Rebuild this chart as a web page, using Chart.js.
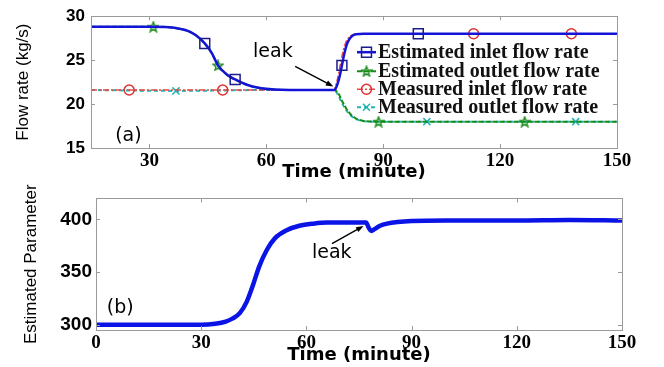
<!DOCTYPE html>
<html>
<head>
<meta charset="utf-8">
<script src="https://cdn.jsdelivr.net/npm/chart.js@4/dist/chart.umd.min.js"></script>
<style>
  body { margin: 0; background: #fff; }
  #wrap { position: relative; width: 664px; height: 367px; overflow: hidden; background: #fff; }
  canvas { position: absolute; left: 0; }
</style>
</head>
<body>
<div id="wrap">
  <canvas id="flowChart" width="664" height="183" style="top:0"></canvas>
  <canvas id="paramChart" width="664" height="184" style="top:183px"></canvas>
</div>
<script>
// (a) flow rates, time in minutes
const estInletT = [15, 30, 35, 38, 40, 42, 44.2, 46, 47.6, 50, 52, 55, 58, 62, 66, 72, 77.5, 78.2, 78.8, 79.4, 80, 80.6, 81.2, 82, 83, 85, 90, 99, 110, 150];
const estInlet = [28.8, 28.8, 28.75, 28.55, 28.3, 27.8, 26.9, 25.8, 24.4, 23.3, 22.8, 22.2, 21.85, 21.65, 21.6, 21.6, 21.6, 22.2, 23.1, 24.4, 25.7, 26.7, 27.3, 27.75, 27.95, 28.0, 28.0, 28.0, 28.0, 28.0];
const estInletMarks = [44.2, 52, 79.4, 99];

const estOutletT = [15, 30, 31, 35, 38, 40, 42, 44.2, 46, 47.6, 50, 52, 55, 58, 62, 66, 72, 77.5, 78.5, 79.5, 80.5, 81.5, 82.5, 83.5, 85, 88.8, 100, 126.3, 150];
const estOutlet = [28.8, 28.8, 28.8, 28.75, 28.55, 28.3, 27.8, 26.9, 25.8, 24.4, 23.3, 22.8, 22.2, 21.85, 21.65, 21.6, 21.6, 21.6, 21.2, 20.3, 19.5, 18.9, 18.5, 18.25, 18.08, 18.0, 18.0, 18.0, 18.0];
const estOutletMarks = [31, 47.6, 88.8, 126.3];

const measInletT = [15, 24.8, 48.8, 60, 77.3, 78, 78.6, 79.2, 79.8, 80.4, 81, 82, 83, 85, 113.2, 138.3, 150];
const measInlet = [21.6, 21.6, 21.6, 21.6, 21.6, 22.4, 23.6, 25.0, 26.2, 27.0, 27.5, 27.85, 27.97, 28.0, 28.0, 28.0, 28.0];
const measInletMarks = [24.8, 48.8, 113.2, 138.3];

const measOutletT = [15, 36.8, 60, 77.3, 78.2, 79.2, 80.2, 81.2, 82.2, 83.2, 84.5, 87, 101.2, 139.4, 150];
const measOutlet = [21.6, 21.5, 21.6, 21.6, 21.2, 20.3, 19.5, 18.9, 18.5, 18.25, 18.08, 18.0, 18.0, 18.0, 18.0];
const measOutletMarks = [36.8, 101.2, 139.4];

// (b) estimated parameter
const paramT = [0, 30, 34, 37, 39, 41, 43, 44.8, 46.5, 48.7, 51, 54.5, 58, 62, 66, 72, 77, 77.8, 78.5, 79.5, 81, 83, 86, 90, 100, 120, 135, 150];
const param = [300, 300, 301, 303, 306, 311, 322, 338, 355, 371, 382, 390, 394, 396, 397, 397, 397, 392, 389, 391, 394, 396, 397.5, 398.5, 399, 399, 399.5, 399];

const flowTicksX = [30, 60, 90, 120, 150];
const flowTicksY = [15, 20, 25, 30];
const paramTicksX = [0, 30, 60, 90, 120, 150];
const paramTicksY = [300, 350, 400];

const toXY = (ts, vs) => ts.map((t, i) => ({ x: t, y: vs[i] }));
const radii = (ts, marks, r) => ts.map(t => marks.includes(t) ? r : 0);

function starCanvas(color) {
  const c = document.createElement('canvas');
  c.width = c.height = 12;
  const g = c.getContext('2d');
  g.strokeStyle = color;
  g.lineWidth = 1.4;
  g.beginPath();
  for (let i = 0; i < 10; i++) {
    const r = i % 2 ? 2.2 : 5.2;
    const a = -Math.PI / 2 + i * Math.PI / 5;
    g.lineTo(6 + r * Math.cos(a), 6.5 + r * Math.sin(a));
  }
  g.closePath();
  g.stroke();
  return c;
}

const sans = "'Liberation Sans', Arial, sans-serif";
const serif = "'Liberation Serif', 'Times New Roman', serif";
const deja = "'DejaVu Sans', Verdana, sans-serif";

// box round the plot with small inner ticks
const boxPlugin = {
  id: 'box',
  afterDraw(chart) {
    const { ctx, chartArea: a, scales } = chart;
    ctx.save();
    ctx.strokeStyle = '#9a9a9a';
    ctx.lineWidth = 1;
    ctx.beginPath();
    scales.x.ticks.forEach(t => {
      const px = Math.round(scales.x.getPixelForValue(t.value)) + 0.5;
      ctx.moveTo(px, a.top); ctx.lineTo(px, a.top + 4);
      ctx.moveTo(px, a.bottom); ctx.lineTo(px, a.bottom - 4);
    });
    scales.y.ticks.forEach(t => {
      const py = Math.round(scales.y.getPixelForValue(t.value)) + 0.5;
      ctx.moveTo(a.left, py); ctx.lineTo(a.left + 4, py);
      ctx.moveTo(a.right, py); ctx.lineTo(a.right - 4, py);
    });
    ctx.stroke();
    ctx.strokeRect(Math.round(a.left) + 0.5, Math.round(a.top) + 0.5, Math.round(a.width), Math.round(a.height));
    ctx.restore();
  }
};

function notesPlugin(texts, arrows) {
  return {
    id: 'notes',
    afterDatasetsDraw(chart) {
      const { ctx, scales: { x, y } } = chart;
      ctx.save();
      ctx.fillStyle = '#000';
      ctx.textBaseline = 'middle';
      ctx.textAlign = 'left';
      texts.forEach(n => {
        ctx.font = n.font;
        ctx.fillText(n.text, x.getPixelForValue(n.x), y.getPixelForValue(n.y));
      });
      arrows.forEach(ar => {
        const x0 = x.getPixelForValue(ar.from[0]), y0 = y.getPixelForValue(ar.from[1]);
        const x1 = x.getPixelForValue(ar.to[0]), y1 = y.getPixelForValue(ar.to[1]);
        const ang = Math.atan2(y1 - y0, x1 - x0);
        ctx.strokeStyle = '#000';
        ctx.lineWidth = 1.4;
        ctx.beginPath();
        ctx.moveTo(x0, y0);
        ctx.lineTo(x1 - 5 * Math.cos(ang), y1 - 5 * Math.sin(ang));
        ctx.stroke();
        ctx.beginPath();
        ctx.moveTo(x1, y1);
        ctx.lineTo(x1 - 8 * Math.cos(ang - 0.35), y1 - 8 * Math.sin(ang - 0.35));
        ctx.lineTo(x1 - 8 * Math.cos(ang + 0.35), y1 - 8 * Math.sin(ang + 0.35));
        ctx.closePath();
        ctx.fill();
      });
      ctx.restore();
    }
  };
}

// legend drawn inside the plot, upper right
const legendPlugin = {
  id: 'innerLegend',
  afterDraw(chart) {
    const { ctx, chartArea: a } = chart;
    const rowsY = [36, 55, 73, 91];
    ctx.save();
    ctx.textBaseline = 'middle';
    ctx.textAlign = 'left';
    chart.data.datasets.forEach((ds, i) => {
      const yy = a.top + rowsY[i];
      const x0 = 357, x1 = 376;
      ctx.strokeStyle = ds.borderColor;
      ctx.lineWidth = ds.borderWidth;
      ctx.setLineDash(ds.borderDash || []);
      ctx.beginPath();
      ctx.moveTo(x0, yy); ctx.lineTo(x1, yy);
      ctx.stroke();
      ctx.setLineDash([]);
      ctx.strokeStyle = ds.pointBorderColor;
      ctx.fillStyle = 'rgba(0,0,0,0)';
      ctx.lineWidth = 1.5;
      Chart.helpers.drawPoint(ctx, {
        pointStyle: ds.pointStyle, radius: ds.legendRadius, rotation: 0, borderWidth: 1.5
      }, (x0 + x1) / 2, yy);
      ctx.font = 'bold 20px ' + serif;
      ctx.fillStyle = '#111';
      ctx.fillText(ds.label, 378, yy + 1);
    });
    ctx.restore();
  }
};

function lineSet(label, ts, vs, marks, color, markColor, width, dash, style, r) {
  return {
    label,
    data: toXY(ts, vs),
    borderColor: color,
    borderWidth: width,
    borderDash: dash,
    pointStyle: style,
    pointRadius: radii(ts, marks, r),
    legendRadius: r,
    pointBorderColor: markColor,
    pointBackgroundColor: 'rgba(0,0,0,0)',
    pointBorderWidth: 1.5,
    cubicInterpolationMode: 'monotone',
    fill: false
  };
}

new Chart(document.getElementById('flowChart'), {
  type: 'line',
  data: {
    datasets: [
      lineSet('Estimated inlet flow rate', estInletT, estInlet, estInletMarks, '#1414d8', '#1c1c8c', 2.5, [], 'rect', 7),
      lineSet('Estimated outlet flow rate', estOutletT, estOutlet, estOutletMarks, '#178a17', '#178a17', 2, [5, 2], starCanvas('#178a17'), 5),
      lineSet('Measured inlet flow rate', measInletT, measInlet, measInletMarks, '#e84848', '#e03030', 1.5, [6, 2, 2, 2], 'circle', 5),
      lineSet('Measured outlet flow rate', measOutletT, measOutlet, measOutletMarks, '#22b4b4', '#22b4b4', 2, [4, 3], 'crossRot', 5)
    ]
  },
  options: {
    responsive: false,
    devicePixelRatio: 1,
    animation: false,
    layout: { padding: { left: 0, right: 47, top: 11, bottom: 0 } },
    plugins: { legend: { display: false }, tooltip: { enabled: false } },
    scales: {
      x: {
        type: 'linear',
        min: 15,
        max: 150,
        afterBuildTicks: s => { s.ticks = flowTicksX.map(v => ({ value: v })); },
        afterFit: s => { s.height = 35; },
        grid: { display: false, drawTicks: false },
        border: { display: false },
        ticks: { color: '#000', padding: 2, maxRotation: 0, font: { family: serif, size: 19, weight: 'bold' } },
        title: { display: true, text: 'Time (minute)', color: '#000', padding: { top: 0, bottom: 0 }, font: { family: deja, size: 18, weight: 'bold' } }
      },
      y: {
        min: 15,
        max: 30,
        afterBuildTicks: s => { s.ticks = flowTicksY.map(v => ({ value: v })); },
        afterFit: s => { s.width = 91; },
        grid: { display: false, drawTicks: false },
        border: { display: false },
        ticks: { color: '#000', padding: 6, font: { family: sans, size: 17, weight: 'bold' } },
        title: { display: true, text: 'Flow rate (kg/s)', color: '#000', padding: { top: 13, bottom: 0 }, font: { family: sans, size: 17 } }
      }
    }
  },
  plugins: [boxPlugin, legendPlugin, notesPlugin(
    [{ text: 'leak', x: 56.6, y: 25.9, font: '19px ' + deja }, { text: '(a)', x: 21.2, y: 16.4, font: '19px ' + deja }],
    [{ from: [67.4, 24.3], to: [77.2, 22.0] }]
  )]
});

new Chart(document.getElementById('paramChart'), {
  type: 'line',
  data: {
    datasets: [{
      label: 'Estimated Parameter',
      data: toXY(paramT, param),
      borderColor: '#0a14e6',
      borderWidth: 4.5,
      pointRadius: 0,
      cubicInterpolationMode: 'monotone',
      fill: false
    }]
  },
  options: {
    responsive: false,
    devicePixelRatio: 1,
    animation: false,
    layout: { padding: { left: 0, right: 42, top: 10, bottom: 0 } },
    plugins: { legend: { display: false }, tooltip: { enabled: false } },
    scales: {
      x: {
        type: 'linear',
        min: 0,
        max: 150,
        afterBuildTicks: s => { s.ticks = paramTicksX.map(v => ({ value: v })); },
        afterFit: s => { s.height = 37; },
        grid: { display: false, drawTicks: false },
        border: { display: false },
        ticks: { color: '#000', padding: 2, maxRotation: 0, font: { family: serif, size: 19, weight: 'bold' } },
        title: { display: true, text: 'Time (minute)', color: '#000', padding: { top: 0, bottom: 1 }, font: { family: deja, size: 18, weight: 'bold' } }
      },
      y: {
        min: 295,
        max: 420,
        afterBuildTicks: s => { s.ticks = paramTicksY.map(v => ({ value: v })); },
        afterFit: s => { s.width = 96; },
        grid: { display: false, drawTicks: false },
        border: { display: false },
        ticks: { color: '#000', padding: 4, font: { family: sans, size: 19, weight: 'bold' } },
        title: { display: true, text: 'Estimated Parameter', color: '#000', padding: { top: 21, bottom: 0 }, font: { family: sans, size: 17 } }
      }
    }
  },
  plugins: [boxPlugin, notesPlugin(
    [{ text: 'leak', x: 61.6, y: 368, font: '19px ' + deja }, { text: '(b)', x: 3.1, y: 315.5, font: '19px ' + deja }],
    [{ from: [67.3, 377], to: [76.3, 393.8] }]
  )]
});
</script>
</body>
</html>
